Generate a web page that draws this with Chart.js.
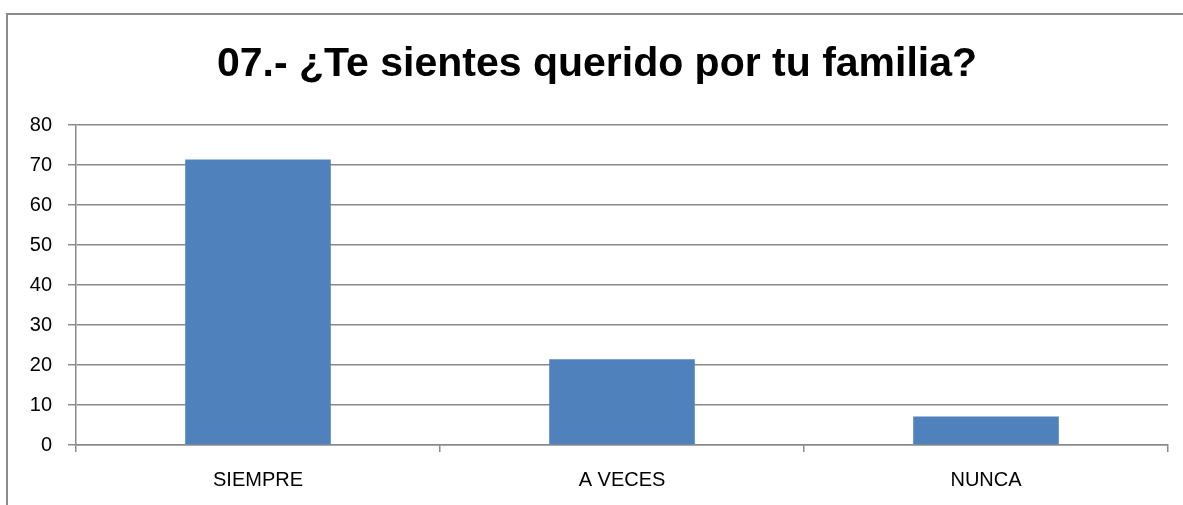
<!DOCTYPE html>
<html>
<head>
<meta charset="utf-8">
<script src="https://cdn.jsdelivr.net/npm/chart.js@4"></script>
<style>
  html, body { margin: 0; padding: 0; background: #fff; }
  #frame {
    position: absolute; left: 6px; top: 13px; width: 1200px; height: 600px;
    border-left: 2px solid #8c8c8c; border-top: 2px solid #8c8c8c;
  }
  #wrap { position: absolute; left: 0; top: 0; width: 1183px; height: 505px; }
</style>
</head>
<body>
<div id="frame"></div>
<div id="wrap"><canvas id="myChart" width="1183" height="505"></canvas></div>
<script>
// data
var categories = ["SIEMPRE", "A VECES", "NUNCA"];
var values = [71.43, 21.43, 7.14];
var yTicks = [0, 10, 20, 30, 40, 50, 60, 70, 80];
var chartTitle = "07.- ¿Te sientes querido por tu familia?";

var gridGray = "#8a8a8a";
var font = "'Liberation Sans', Arial, sans-serif";

var ctx = document.getElementById("myChart").getContext('2d');
var myChart = new Chart(ctx, {
  type: 'bar',
  data: {
    labels: categories,
    datasets: [{
      data: values,
      backgroundColor: "#4F81BD",
      categoryPercentage: 1,
      barPercentage: 0.4
    }]
  },
  options: {
    responsive: false,
    animation: false,
    // left padding keeps the title centred where the original sits
    layout: { padding: { left: 26, right: 15, top: 0, bottom: 0 } },
    plugins: {
      legend: { display: false },
      tooltip: { enabled: false },
      title: {
        display: true,
        text: chartTitle,
        color: "#000",
        font: { family: font, size: 41, weight: 'bold', lineHeight: 1.2 },
        padding: { top: 40, bottom: 36 }
      }
    },
    scales: {
      x: {
        grid: { offset: true, drawOnChartArea: false, color: gridGray, lineWidth: 1.5, tickLength: 7 },
        border: { color: gridGray, width: 1.5 },
        ticks: { color: "#000", font: { family: font, size: 20 }, padding: 16, maxRotation: 0 },
        afterFit: function (s) { s.height = 60; }
      },
      y: {
        min: 0,
        max: 80,
        afterBuildTicks: function (s) { s.ticks = yTicks.map(function (v) { return { value: v }; }); },
        grid: { color: gridGray, lineWidth: 1.5, tickLength: 8 },
        border: { color: gridGray, width: 1.5 },
        ticks: { color: "#000", font: { family: font, size: 20 }, padding: 16 },
        afterFit: function (s) { s.width = 50; }
      }
    }
  }
});
</script>
</body>
</html>
